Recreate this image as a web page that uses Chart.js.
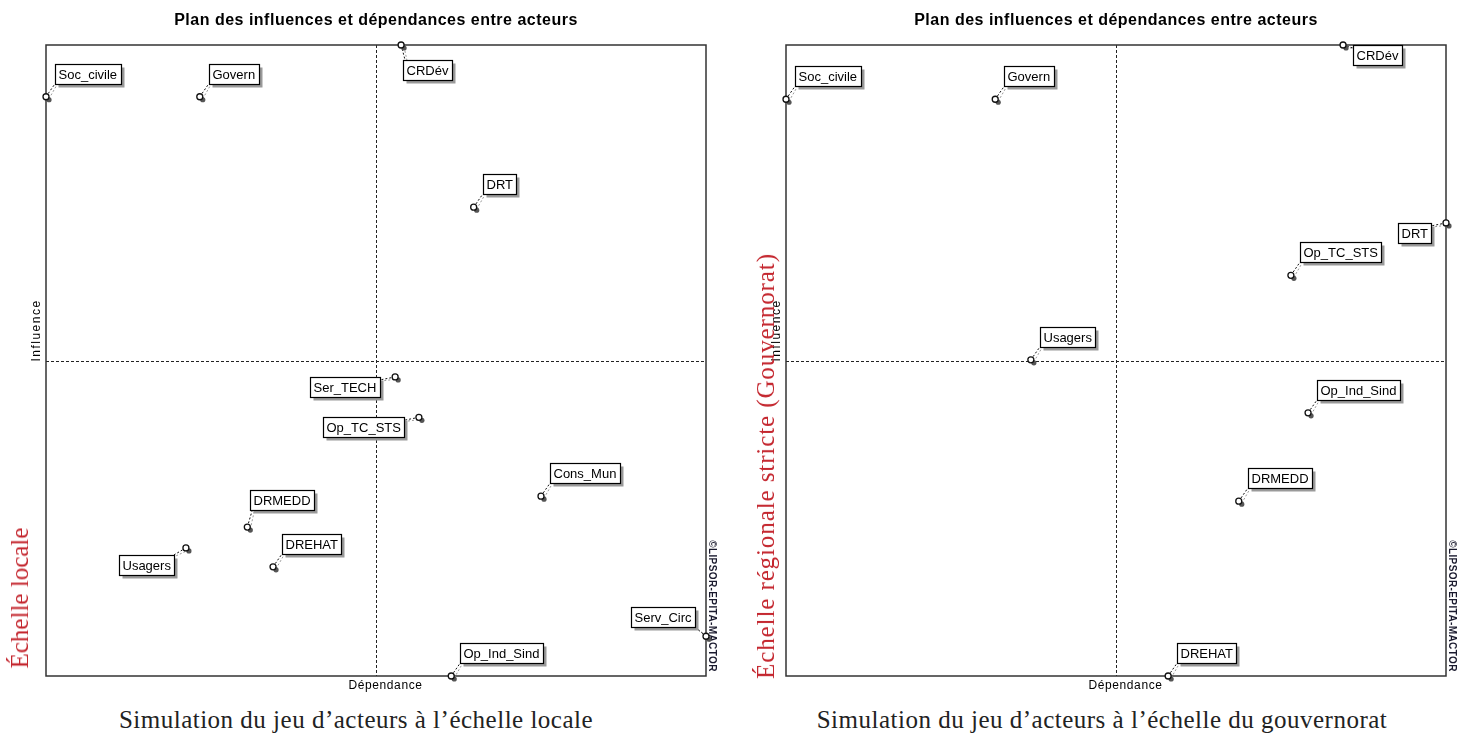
<!DOCTYPE html>
<html>
<head>
<meta charset="utf-8">
<script src="https://cdn.jsdelivr.net/npm/chart.js@4"></script>
<style>
  body { margin: 0; background: #fff; width: 1458px; height: 738px; overflow: hidden; position: relative; }
  .box { position: absolute; top: 0; height: 700px; }
  .caption { position: absolute; top: 706px; font: 25px "Liberation Serif", serif; letter-spacing: 0.5px; color: #222; white-space: nowrap; transform: translateX(-50%); }
  .side { position: absolute; font: 25px "Liberation Serif", serif; color: #c4262e; white-space: nowrap;
          transform: translate(-50%, -50%) rotate(-90deg); }
</style>
</head>
<body>
<div class="box" style="left:0;width:729px"><canvas id="chartLocal"></canvas></div>
<div class="box" style="left:740px;width:718px"><canvas id="chartGouv"></canvas></div>
<div class="caption" style="left:356px">Simulation du jeu d’acteurs à l’échelle locale</div>
<div class="caption" style="left:1102px">Simulation du jeu d’acteurs à l’échelle du gouvernorat</div>
<div class="side" style="left:20px;top:598px">Échelle locale</div>
<div class="side" style="left:766px;top:466px;letter-spacing:0.9px">Échelle régionale stricte (Gouvernorat)</div>
<script>
// échelle locale
const actorsLocal = ["Soc_civile", "Govern", "CRDév", "DRT", "Ser_TECH", "Op_TC_STS", "Cons_Mun", "DRMEDD", "DREHAT", "Usagers", "Serv_Circ", "Op_Ind_Sind"];
const dependanceLocal = [0, 23.3, 53.8, 64.8, 52.9, 56.5, 75, 30.5, 34.4, 21.2, 100, 61.4];
const influenceLocal = [91.8, 91.8, 100, 74.3, 47.4, 41.0, 28.5, 23.6, 17.3, 20.3, 6.3, 0];

// échelle du gouvernorat
const actorsGouv = ["Soc_civile", "Govern", "CRDév", "DRT", "Op_TC_STS", "Usagers", "Op_Ind_Sind", "DRMEDD", "DREHAT"];
const dependanceGouv = [0, 31.7, 84.4, 100, 76.5, 37.1, 79.1, 68.6, 57.9];
const influenceGouv = [91.4, 91.4, 100, 71.8, 63.5, 50.1, 41.7, 27.7, 0];

// where the label box sits relative to its point
const placeLocal = ["ne", "ne", "se", "ne", "w", "w", "ne", "n", "ne", "sw", "nw", "ne"];
const placeGouv = ["ne", "ne", "e", "w", "ne", "ne", "ne", "ne", "ne"];

const TITLE = "Plan des influences et dépendances entre acteurs";

const mactorPlugin = {
  id: "mactor",
  beforeDatasetsDraw(chart) {
    const { ctx, chartArea: a, scales: { x, y } } = chart;
    ctx.save();
    // quadrant lines
    ctx.strokeStyle = "#222";
    ctx.lineWidth = 1;
    ctx.setLineDash([3, 2]);
    const mx = Math.round(x.getPixelForValue(50)) + 0.5;
    const my = Math.round(y.getPixelForValue(50)) + 0.5;
    ctx.beginPath();
    ctx.moveTo(mx, a.top); ctx.lineTo(mx, a.bottom);
    ctx.moveTo(a.left, my); ctx.lineTo(a.right, my);
    ctx.stroke();
    ctx.setLineDash([]);
    // frame
    ctx.strokeStyle = "#333";
    ctx.lineWidth = 1.5;
    ctx.strokeRect(a.left, a.top, a.right - a.left, a.bottom - a.top);

    // title + axis names
    ctx.fillStyle = "#000";
    ctx.font = "bold 16px 'Liberation Sans', Arial, sans-serif";
    ctx.letterSpacing = "0.5px";
    ctx.textAlign = "center";
    ctx.textBaseline = "middle";
    ctx.fillText(TITLE, (a.left + a.right) / 2, 21);
    ctx.font = "12px 'Liberation Sans', Arial, sans-serif";
    ctx.letterSpacing = "0.6px";
    ctx.fillText("Dépendance", mx + 9, a.bottom + 10);
    ctx.save();
    ctx.translate(a.left - 9, my - 31);
    ctx.rotate(-Math.PI / 2);
    ctx.letterSpacing = "1.5px";
    ctx.fillText("Influence", 0, 0);
    ctx.restore();
    ctx.save();
    ctx.translate(a.right + 6, a.bottom - 70);
    ctx.rotate(Math.PI / 2);
    ctx.fillStyle = "#1a1a2e";
    ctx.font = "bold 10px 'Liberation Sans', Arial, sans-serif";
    ctx.letterSpacing = "0.4px";
    ctx.fillText("©LIPSOR-EPITA-MACTOR", 0, 0);
    ctx.restore();
    ctx.letterSpacing = "0px";

    // point shadows and leader lines + label boxes
    const meta = chart.getDatasetMeta(0);
    const ds = chart.data.datasets[0];
    ctx.font = "13px 'Liberation Sans', Arial, sans-serif";
    ctx.textAlign = "left";
    meta.data.forEach((pt, i) => {
      const px = pt.x, py = pt.y;
      const w = Math.round(ctx.measureText(ds.labels[i]).width) + 7;
      const h = 20;
      let bx, by, lx, ly;
      switch (ds.place[i]) {
        case "se": bx = px + 2; by = py + 15; lx = bx + 2; ly = by; break;
        case "e": bx = px + 10; by = py; lx = bx; ly = by + 3; break;
        case "w": bx = px - 15 - w; by = py; lx = bx + w; ly = by + 3; break;
        case "sw": bx = px - 12 - w; by = py + 7; lx = bx + w; ly = by; break;
        case "nw": bx = px - 11 - w; by = py - 9 - h; lx = bx + w; ly = by + h; break;
        case "n": bx = px + 3; by = py - 17 - h; lx = bx + 2; ly = by + h; break;
        default: bx = px + 9; by = py - 13 - h; lx = bx; ly = by + h;
      }
      bx = Math.round(bx) + 0.5; by = Math.round(by) + 0.5;
      // leader (double dotted)
      ctx.lineWidth = 1;
      ctx.setLineDash([2, 2]);
      ctx.strokeStyle = "#999";
      ctx.beginPath(); ctx.moveTo(px + 3, py + 2); ctx.lineTo(lx + 2, ly + 1); ctx.stroke();
      ctx.strokeStyle = "#111";
      ctx.beginPath(); ctx.moveTo(px, py); ctx.lineTo(lx, ly); ctx.stroke();
      ctx.setLineDash([]);
      // point shadow
      ctx.fillStyle = "#555";
      ctx.beginPath(); ctx.arc(px + 3, py + 3, 2.6, 0, Math.PI * 2); ctx.fill();
      // box shadow
      ctx.fillStyle = "#9a9a9a";
      ctx.fillRect(bx + 3, by + 3, w, h);
      ctx.fillStyle = "#fff";
      ctx.fillRect(bx, by, w, h);
      ctx.strokeStyle = "#000";
      ctx.lineWidth = 1.2;
      ctx.strokeRect(bx, by, w, h);
      ctx.fillStyle = "#000";
      ctx.textBaseline = "middle";
      ctx.fillText(ds.labels[i], bx + 3, by + h / 2 + 1);
    });
    ctx.restore();
  }
};

function makeChart(id, actors, dep, infl, place, padRight) {
  new Chart(document.getElementById(id), {
    type: "scatter",
    data: {
      datasets: [{
        data: dep.map((d, i) => ({ x: d, y: infl[i] })),
        labels: actors,
        place: place,
        pointRadius: 3,
        pointBackgroundColor: "#fff",
        pointBorderColor: "#111",
        pointBorderWidth: 1.3,
        clip: false
      }]
    },
    options: {
      responsive: true,
      maintainAspectRatio: false,
      animation: false,
      events: [],
      layout: { padding: { left: 46, top: 45, right: padRight, bottom: 24 } },
      scales: {
        x: { display: false, min: 0, max: 100 },
        y: { display: false, min: 0, max: 100 }
      },
      plugins: { legend: { display: false }, tooltip: { enabled: false } }
    },
    plugins: [mactorPlugin]
  });
}

makeChart("chartLocal", actorsLocal, dependanceLocal, influenceLocal, placeLocal, 23);
makeChart("chartGouv", actorsGouv, dependanceGouv, influenceGouv, placeGouv, 12);
</script>
</body>
</html>
